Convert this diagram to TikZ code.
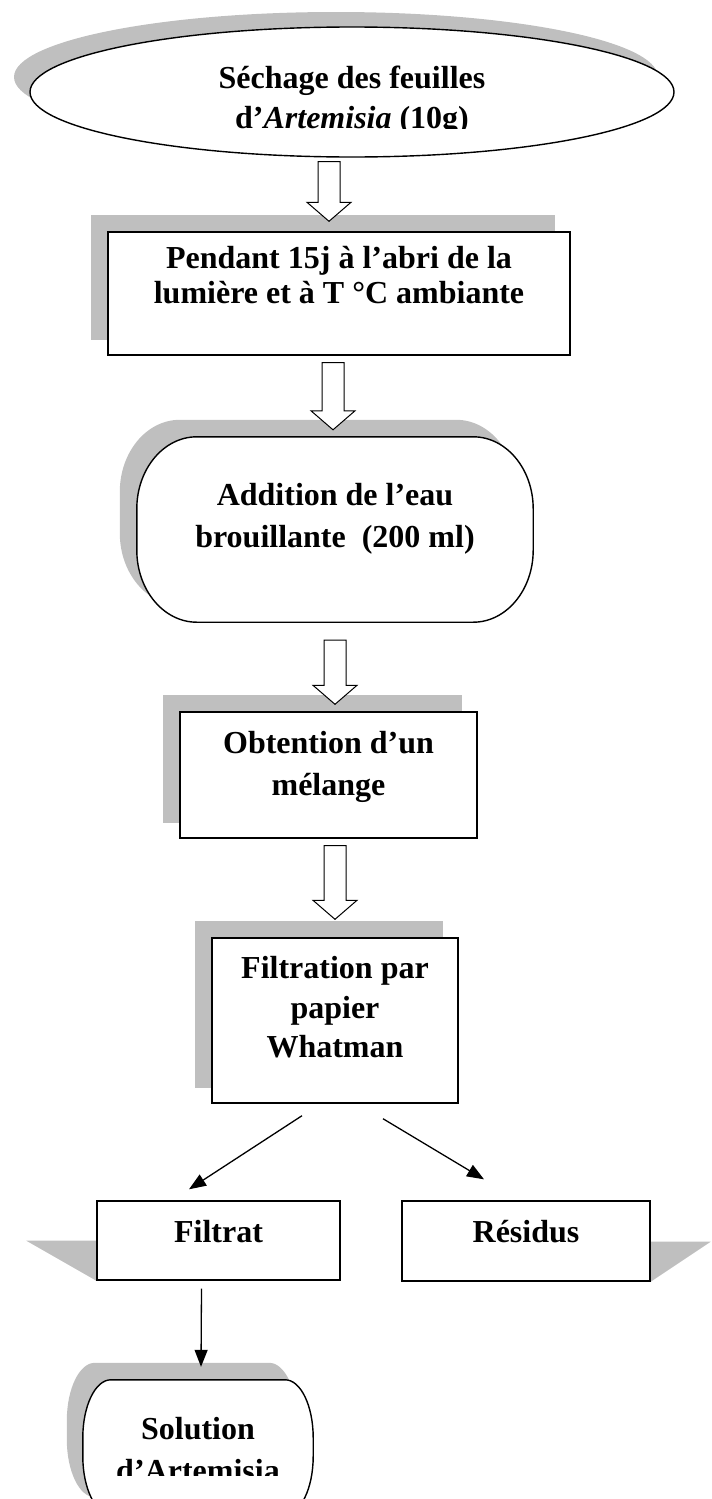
\documentclass[tikz,border=0pt]{standalone}
\usepackage{fontspec}
\setmainfont{Liberation Serif}
\usetikzlibrary{shapes.geometric,calc,arrows.meta,backgrounds}
\definecolor{shadowgrey}{RGB}{191,191,191}
\begin{document}
\begin{tikzpicture}[x=1pt,y=1pt,
  stage/.style={draw, line width=1.4pt, fill=white, inner sep=0pt},
  frame/.style={inner sep=0pt},
  lbl/.style={anchor=base, inner sep=0pt, font=\fontsize{32}{34}\selectfont\bfseries},
  % rounded box with elliptic corners around a node, optionally shifted
  capsule/.style n args={5}{insert path={
    ([shift={(#4+#2,#5)}]#1.north west) -- ([shift={(#4-#2,#5)}]#1.north east)
    arc[start angle=90,end angle=0,x radius=#2,y radius=#3]
    -- ([shift={(#4,#5+#3)}]#1.south east)
    arc[start angle=0,end angle=-90,x radius=#2,y radius=#3]
    -- ([shift={(#4+#2,#5)}]#1.south west)
    arc[start angle=270,end angle=180,x radius=#2,y radius=#3]
    -- ([shift={(#4,#5-#3)}]#1.north west)
    arc[start angle=180,end angle=90,x radius=#2,y radius=#3] -- cycle}},
  blockto/.style={draw, fill=white, line width=1pt, line join=miter,
    to path={let \p1=(\tikztostart), \p2=(\tikztotarget) in
      (\x1-11pt,\y1) -- (\x1+11pt,\y1) -- (\x1+11pt,\y2+19pt) -- (\x1+22pt,\y2+19pt)
      -- (\x1,\y2) -- (\x1-22pt,\y2+19pt) -- (\x1-11pt,\y2+19pt) -- cycle}},
  thinarrow/.style={line width=1.3pt, -{Triangle[length=17pt,width=13pt]}}
]
\clip (0,0) rectangle (712,-1499);

% drying the leaves
\node[stage, ellipse, minimum width=644pt, minimum height=130pt] (dry) at (352,-92) {};
\begin{scope}
  \clip (0,-20) rectangle (712,-128);
  \node[lbl] (dry1) at (352,-88) {Séchage des feuilles};
  \node[lbl] (dry2) at (352,-128.5) {d’\textit{Artemisia} (10g)};
\end{scope}

% storage in the dark
\node[stage, minimum width=462pt, minimum height=123pt] (dark) at (339,-293.5) {};
\node[lbl] (dark1) at (339,-268) {Pendant 15j à l’abri de la};
\node[lbl] (dark2) at (339,-303) {lumière et à T °C ambiante};

% boiling water
\node[frame, minimum width=396pt, minimum height=185pt] (boil) at (335,-529.5) {};
\filldraw[fill=white, line width=1.4pt, capsule={boil}{60pt}{72pt}{0pt}{0pt}];
\node[lbl] (boil1) at (335,-505) {Addition de l’eau};
\node[lbl] (boil2) at (335,-547) {brouillante\ \ (200 ml)};

% mixture
\node[stage, minimum width=297pt, minimum height=126pt] (mix) at (328.5,-775) {};
\node[lbl] (mix1) at (328.5,-753) {Obtention d’un};
\node[lbl] (mix2) at (328.5,-795) {mélange};

% filtration
\node[stage, minimum width=246pt, minimum height=165pt] (filt) at (335,-1020.5) {};
\node[lbl] (filt1) at (335,-978) {Filtration par};
\node[lbl] (filt2) at (335,-1018) {papier};
\node[lbl] (filt3) at (335,-1057) {Whatman};

% filtrate and residue
\node[stage, minimum width=243pt, minimum height=79pt] (fil) at (218.5,-1240.5) {};
\node[lbl] (fil1) at (218.5,-1242) {Filtrat};
\node[stage, minimum width=248pt, minimum height=80pt] (res) at (526,-1241) {};
\node[lbl] (res1) at (526,-1242) {Résidus};

% final solution
\node[frame, minimum width=230pt, minimum height=134pt] (sol) at (198,-1447) {};
\filldraw[fill=white, line width=1.4pt, capsule={sol}{28pt}{58pt}{0pt}{0pt}];
\begin{scope}
  \clip (0,-1380) rectangle (712,-1475);
  \node[lbl] (sol1) at (198,-1439) {Solution};
  \node[lbl] (sol2) at (198,-1481) {d’Artemisia};
\end{scope}

% grey shadows behind the stages
\begin{pgfonlayer}{background}
  \fill[shadowgrey] ([shift={(-16pt,15pt)}]dry.center) ellipse[x radius=322pt, y radius=65pt];
  \foreach \n in {dark,mix,filt}
    \fill[shadowgrey] ([shift={(-16pt,16pt)}]\n.south west) rectangle ([shift={(-16pt,16pt)}]\n.north east);
  \fill[shadowgrey, capsule={boil}{60pt}{72pt}{-17pt}{17pt}];
  \fill[shadowgrey, capsule={sol}{28pt}{58pt}{-16pt}{17pt}];
  \fill[shadowgrey] (fil.south west) -- ([yshift=40pt]fil.south west) -- ++(-70pt,0) -- cycle;
  \fill[shadowgrey] (res.south east) -- ([yshift=40pt]res.south east) -- ++(60pt,0) -- cycle;
\end{pgfonlayer}

% hollow block arrows
\coordinate (a1s) at ([xshift=-23pt,yshift=-4pt]dry.south);
\coordinate (a1e) at ([xshift=-10pt,yshift=10pt]dark.north);
\coordinate (a2s) at ([xshift=-6pt,yshift=-7pt]dark.south);
\coordinate (a2e) at ([xshift=-2pt,yshift=7pt]boil.north);
\coordinate (a3s) at ([yshift=-18pt]boil.south);
\coordinate (a3e) at ([xshift=6.5pt,yshift=7pt]mix.north);
\coordinate (a4s) at ([xshift=6.5pt,yshift=-7pt]mix.south);
\coordinate (a4e) at ([yshift=18pt]filt.north);
\draw[blockto] (a1s) to (a1e);
\draw[blockto] (a2s) to (a2e);
\draw[blockto] (a3s) to (a3e);
\draw[blockto] (a4s) to (a4e);

% thin arrows
\draw[thinarrow] ([xshift=-33pt,yshift=-12pt]filt.south) -- ([xshift=-29.5pt,yshift=11pt]fil.north);
\draw[thinarrow] ([xshift=48pt,yshift=-15pt]filt.south) -- ([xshift=-42pt,yshift=21pt]res.north);
\draw[thinarrow] ([xshift=-17pt,yshift=-8pt]fil.south) -- ([xshift=3pt,yshift=13pt]sol.north);
\end{tikzpicture}
\end{document}
